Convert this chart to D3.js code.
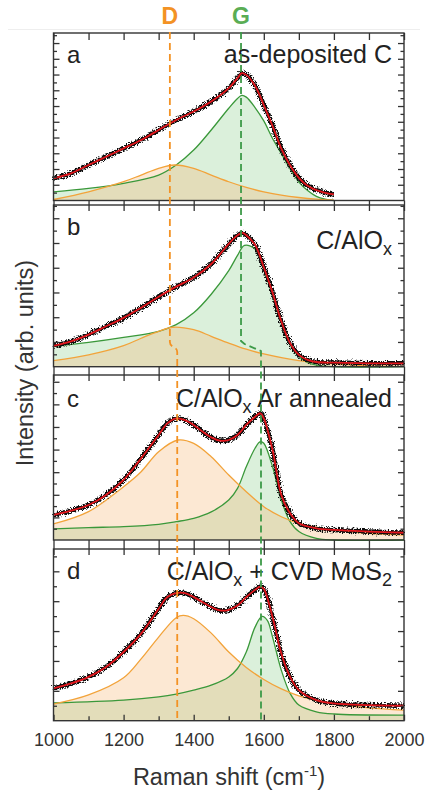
<!DOCTYPE html>
<html>
<head>
<meta charset="utf-8">
<script src="https://cdn.jsdelivr.net/npm/d3@7"></script>
<style>
  body { margin: 0; background: #fff; }
  text { font-family: "Liberation Sans", Arial, Helvetica, sans-serif; }
</style>
</head>
<body>
<div id="chart"></div>
<script>
// Raman spectra, intensity in arb. units (0-100 = bottom..top of each panel)
var xTicks = [1000, 1200, 1400, 1600, 1800, 2000];
var xMinorTicks = [1100, 1300, 1500, 1700, 1900];
var panelLetters = ["a", "b", "c", "d"];
// title pieces: [text, isSubscript]
var panelTitles = [
  [["as-deposited C", false]],
  [["C/AlO", false], ["x", true]],
  [["C/AlO", false], ["x", true], [" Ar annealed", false]],
  [["C/AlO", false], ["x", true], [" + CVD MoS", false], ["2", true]]
];

// panel a: as-deposited C
var aSpectrum = [[1000,13.2],[1050,16.2],[1100,21.2],[1150,26.1],[1200,31.1],[1250,36.1],[1300,42.1],[1350,48.1],[1400,53.1],[1450,59.1],[1500,67.1],[1525,73.1],[1537,76.0],[1550,75.0],[1575,68.5],[1600,57.0],[1625,44.5],[1650,31.0],[1675,21.0],[1700,13.5],[1725,8.8],[1750,6.2],[1775,4.6],[1800,3.6]];
var aD = [[1000,0.6],[1100,5.2],[1200,11.2],[1250,15.2],[1300,19.2],[1345,21.2],[1400,19.2],[1450,15.2],[1500,11.2],[1550,7.8],[1600,5.2],[1650,3.2],[1700,1.8],[1750,0.8],[1800,0.2]];
var aG = [[1000,5.2],[1100,7.2],[1200,10.2],[1300,15.2],[1350,21.2],[1400,30.1],[1450,42.1],[1500,55.1],[1525,60.9],[1537,62.7],[1550,61.7],[1575,55.5],[1600,47.5],[1625,37.0],[1650,28.0],[1675,19.0],[1700,11.0],[1725,6.0],[1750,2.5],[1775,0.8],[1800,0]];

// panel b: C/AlOx
var bSpectrum = [[1000,12.9],[1050,15.6],[1100,19.8],[1150,25.0],[1200,30.2],[1250,36.5],[1300,43.2],[1350,49.5],[1400,55.2],[1450,63.5],[1500,76.0],[1525,81.3],[1540,82.7],[1550,81.3],[1575,75.4],[1600,61.5],[1625,45.8],[1650,28.1],[1675,14.6],[1700,7.3],[1725,4.2],[1750,2.9],[1800,2.5],[1900,2.1],[2000,2.1]];
var bD = [[1000,3.7],[1100,7.3],[1200,13.0],[1250,17.6],[1300,21.9],[1340,24.4],[1400,22.9],[1450,18.8],[1500,14.6],[1550,10.8],[1600,7.9],[1700,3.7],[1800,1.7],[1900,0.6],[2000,0.2]];
var bG = [[1000,12.5],[1100,15.0],[1200,18.1],[1300,21.9],[1350,26.0],[1400,33.3],[1450,44.8],[1500,59.4],[1525,68.8],[1545,75.0],[1575,72.9],[1600,60.0],[1625,44.0],[1650,27.0],[1675,13.5],[1700,6.3],[1725,2.5],[1750,1.0],[1800,0],[2000,0]];

// panel c: C/AlOx Ar annealed
var cSpectrum = [[1000,15.2],[1050,17.8],[1100,21.2],[1150,27.3],[1200,36.4],[1250,49.5],[1300,63.6],[1325,70.7],[1350,73.7],[1375,72.7],[1400,69.7],[1425,65.7],[1450,62.2],[1475,60.2],[1500,60.6],[1525,63.6],[1550,69.7],[1575,74.7],[1590,76.8],[1600,73.7],[1625,54.5],[1650,27.3],[1675,16.2],[1700,10.1],[1750,7.1],[1800,6.1],[1900,5.1],[2000,4.4]];
var cD = [[1000,9.7],[1100,17.2],[1200,32.3],[1250,41.4],[1300,53.5],[1355,60.6],[1400,58.6],[1450,50.5],[1500,39.4],[1550,29.3],[1600,20.2],[1650,14.1],[1700,10.1],[1800,6.1],[1900,4.0],[2000,3.0]];
var cG = [[1000,6.7],[1100,7.5],[1200,8.1],[1300,9.5],[1350,11.1],[1400,13.1],[1450,17.0],[1500,24.2],[1525,31.3],[1550,44.4],[1575,55.6],[1590,59.6],[1600,58.6],[1625,44.4],[1650,24.2],[1675,11.1],[1700,5.1],[1750,1.0],[1800,0],[2000,0]];

// panel d: C/AlOx + CVD MoS2
var dSpectrum = [[1000,18.8],[1050,21.7],[1100,25.5],[1150,31.3],[1200,40.0],[1250,50.7],[1300,65.2],[1325,72.0],[1350,74.3],[1375,74.3],[1400,72.0],[1425,69.1],[1450,66.2],[1475,64.2],[1500,64.6],[1525,67.1],[1550,72.0],[1575,76.2],[1590,78.1],[1600,76.8],[1625,60.3],[1650,39.1],[1675,25.5],[1700,17.8],[1750,12.0],[1800,10.1],[1900,9.1],[2000,8.7]];
var dD = [[1000,9.7],[1100,15.0],[1200,25.0],[1250,36.0],[1300,48.7],[1350,60.0],[1370,61.3],[1400,59.4],[1450,51.0],[1500,40.0],[1550,31.0],[1600,24.0],[1650,18.5],[1700,14.5],[1800,10.0],[1900,7.5],[2000,6.2]];
var dG = [[1000,10.4],[1200,12.0],[1300,13.9],[1350,15.5],[1400,17.8],[1450,20.7],[1500,25.5],[1525,30.4],[1550,40.0],[1575,54.5],[1595,60.7],[1610,58.4],[1625,48.7],[1650,29.4],[1675,15.9],[1700,9.1],[1750,5.2],[1800,3.9],[2000,3.3]];

// D and G band markers (cm-1): upper panels, lower panels
var dBand = [1332, 1353];
var gBand = [1535, 1592];

var spectra = [aSpectrum, bSpectrum, cSpectrum, dSpectrum];
var dFits = [aD, bD, cD, dD];
var gFits = [aG, bG, cG, dG];

// layout
var W = 428, H = 796;
var left = 53.5, right = 404;
var panelBox = [[33, 200.5], [205, 366.7], [375, 540], [549, 720.7]];
var tickStep = [9.4, 15.3, 13.7, 17.4];
var letterY = [63, 235, 406.5, 578.5];
var titleY = [63, 248.5, 406.5, 580];

var svg = d3.select("#chart").append("svg")
    .attr("width", W)
    .attr("height", H);

// grainy look of the measured trace
var defs = svg.append("defs");
var filt = defs.append("filter").attr("id", "noise")
    .attr("x", "-5%").attr("y", "-5%").attr("width", "110%").attr("height", "110%");
filt.append("feTurbulence").attr("type", "fractalNoise")
    .attr("baseFrequency", "0.8").attr("numOctaves", 2).attr("seed", 4).attr("result", "t");
filt.append("feDisplacementMap").attr("in", "SourceGraphic").attr("in2", "t")
    .attr("scale", 7).attr("xChannelSelector", "R").attr("yChannelSelector", "G");

// faint line at the top of the figure
svg.append("line")
    .attr("x1", 8).attr("x2", 420).attr("y1", 29.5).attr("y2", 29.5)
    .attr("stroke", "#eeeeee").attr("stroke-width", 1);

var x = d3.scaleLinear().domain([1000, 2000]).range([left, right]);

function styleAxis(sel) {
  sel.select(".domain").remove();
  sel.selectAll(".tick line").attr("stroke", "#333").attr("stroke-width", 1.3);
}

spectra.forEach(function(spec, i) {
  var top = panelBox[i][0], bottom = panelBox[i][1];
  var y = d3.scaleLinear().domain([0, 100]).range([bottom, top]);
  var g = svg.append("g");

  var area = d3.area()
      .x(function(d) { return x(d[0]); })
      .y0(y(0))
      .y1(function(d) { return y(d[1]); })
      .curve(d3.curveCatmullRom.alpha(0.5));
  var line = d3.line()
      .x(function(d) { return x(d[0]); })
      .y(function(d) { return y(d[1]); })
      .curve(d3.curveCatmullRom.alpha(0.5));

  // fitted components
  g.append("path").datum(gFits[i]).attr("d", area)
      .attr("fill", "rgba(112,196,112,0.25)");
  g.append("path").datum(dFits[i]).attr("d", area)
      .attr("fill", "rgba(245,180,110,0.3)");
  g.append("path").datum(gFits[i]).attr("d", line)
      .attr("fill", "none").attr("stroke", "#3a983a").attr("stroke-width", 1.3);
  g.append("path").datum(dFits[i]).attr("d", line)
      .attr("fill", "none").attr("stroke", "#f2a33a").attr("stroke-width", 1.3);

  // measured data + total fit
  g.append("path").datum(spec).attr("d", line)
      .attr("fill", "none").attr("stroke", "#111").attr("stroke-width", 4.6)
      .attr("filter", "url(#noise)");
  g.append("path").datum(spec).attr("d", line)
      .attr("fill", "none").attr("stroke", "#e3161c").attr("stroke-width", 1.8);

  // frame
  g.append("rect")
      .attr("x", left).attr("y", top)
      .attr("width", right - left).attr("height", bottom - top)
      .attr("fill", "none").attr("stroke", "#333").attr("stroke-width", 1.4);

  // y ticks (inward, both sides)
  var major = d3.range(tickStep[i], 100, tickStep[i]);
  var minor = d3.range(tickStep[i] / 2, 100, tickStep[i]);
  [[d3.axisLeft, left], [d3.axisRight, right]].forEach(function(a) {
    g.append("g").attr("transform", "translate(" + a[1] + ",0)")
        .call(a[0](y).tickValues(major).tickSize(-6).tickFormat(""))
        .call(styleAxis);
    g.append("g").attr("transform", "translate(" + a[1] + ",0)")
        .call(a[0](y).tickValues(minor).tickSize(-3.5).tickFormat(""))
        .call(styleAxis);
  });

  // x ticks
  if (i === 0) {
    g.append("g").attr("transform", "translate(0," + top + ")")
        .call(d3.axisTop(x).tickValues(xTicks.concat(xMinorTicks)).tickSize(-7).tickFormat(""))
        .call(styleAxis);
  }
  if (i < 3) {
    var gap = panelBox[i + 1][0] - bottom;
    g.append("g").attr("transform", "translate(0," + bottom + ")")
        .call(d3.axisBottom(x).tickValues(xTicks.concat(xMinorTicks)).tickSize(gap + 6).tickFormat(""))
        .call(styleAxis);
  } else {
    var ax = g.append("g").attr("transform", "translate(0," + bottom + ")")
        .call(d3.axisBottom(x).tickValues(xTicks).tickSize(-6).tickPadding(13).tickFormat(d3.format("d")))
        .call(styleAxis);
    ax.selectAll("text").attr("font-size", 18).attr("fill", "#333")
        .style("font-family", "'Liberation Sans', Arial, sans-serif");
    g.append("g").attr("transform", "translate(0," + bottom + ")")
        .call(d3.axisBottom(x).tickValues(xMinorTicks).tickSize(-4.5).tickFormat(""))
        .call(styleAxis);
  }

  // panel letter
  g.append("text")
      .attr("x", 67).attr("y", letterY[i])
      .attr("font-size", 24).attr("fill", "#222")
      .text(panelLetters[i]);

  // panel title, right aligned with subscripts
  var t = g.append("text")
      .attr("x", 392).attr("y", titleY[i])
      .attr("text-anchor", "end")
      .attr("font-size", 25).attr("fill", "#222");
  var shifted = false;
  panelTitles[i].forEach(function(piece) {
    var ts = t.append("tspan").text(piece[0]);
    if (piece[1]) {
      ts.attr("font-size", 18).attr("dy", 6);
      shifted = true;
    } else if (shifted) {
      ts.attr("dy", -6);
      shifted = false;
    }
  });
});

// D and G guide lines
var yTop = 32, yEnd = panelBox[3][1];
svg.append("path")
    .attr("d", "M" + x(dBand[0]) + "," + yTop + "V342" +
               "C" + x(dBand[0]) + ",348 " + x(dBand[1]) + ",346 " + x(dBand[1]) + ",352" +
               "V" + yEnd)
    .attr("fill", "none").attr("stroke", "#f39224").attr("stroke-width", 1.8)
    .attr("stroke-dasharray", "7,4");
svg.append("path")
    .attr("d", "M" + x(gBand[0]) + "," + yTop + "V341" +
               "L" + x(1545) + ",344" +
               "L" + x(gBand[1]) + ",351" +
               "V" + yEnd)
    .attr("fill", "none").attr("stroke", "#3d9a48").attr("stroke-width", 1.8)
    .attr("stroke-dasharray", "7,4");

svg.append("text")
    .attr("x", x(dBand[0])).attr("y", 23.5)
    .attr("text-anchor", "middle").attr("font-size", 23).attr("font-weight", "bold")
    .attr("fill", "#f39224").text("D");
svg.append("text")
    .attr("x", x(gBand[0])).attr("y", 23.5)
    .attr("text-anchor", "middle").attr("font-size", 23).attr("font-weight", "bold")
    .attr("fill", "#5aad54").text("G");

// axis titles
var xt = svg.append("text")
    .attr("x", 229).attr("y", 785)
    .attr("text-anchor", "middle").attr("font-size", 23.5).attr("fill", "#333");
xt.append("tspan").text("Raman shift (cm");
xt.append("tspan").attr("font-size", 15).attr("dy", -9).text("-1");
xt.append("tspan").attr("dy", 9).text(")");

svg.append("text")
    .attr("transform", "translate(33,363) rotate(-90)")
    .attr("text-anchor", "middle").attr("font-size", 23.5).attr("fill", "#333")
    .text("Intensity (arb. units)");
</script>
</body>
</html>
